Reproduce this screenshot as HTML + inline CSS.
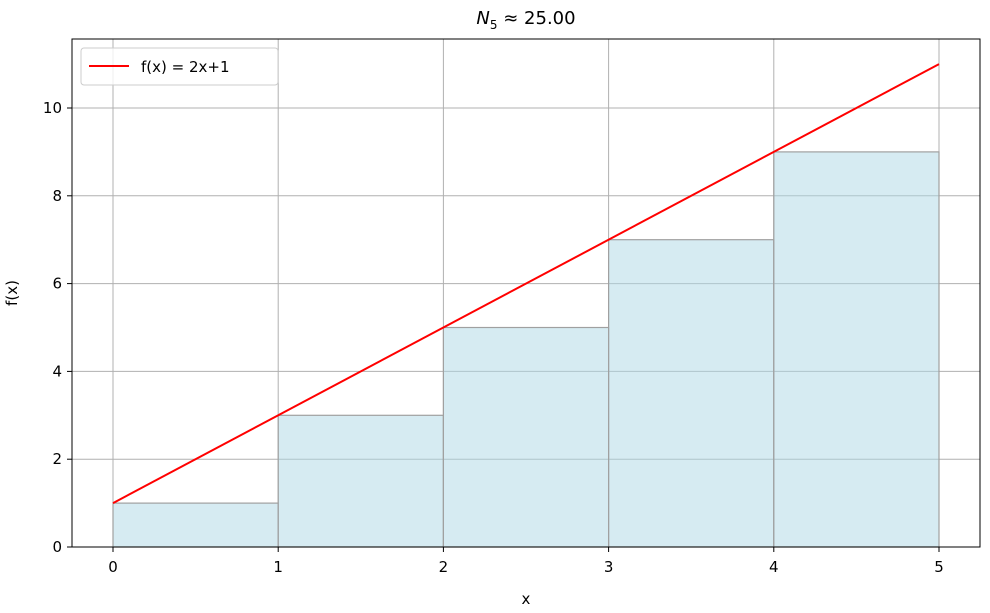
<!DOCTYPE html>
<html><head><meta charset="utf-8"><style>
body{margin:0;background:#fff;}
svg text{font-family:"DejaVu Sans","Liberation Sans",sans-serif;fill:#000;}
</style></head><body>
<svg width="990" height="608" xmlns="http://www.w3.org/2000/svg">
<g id="grid"></g>
<g id="bars"></g>
<g id="line"></g>
<rect x="72" y="39" width="908" height="508" fill="none" stroke="#000" stroke-width="1"/>
<g id="ticks"></g>
<text x="526" y="24" font-size="18" text-anchor="middle"><tspan font-style="italic">N</tspan><tspan font-size="12" dy="5">5</tspan><tspan dy="-5"> ≈ 25.00</tspan></text>
<text x="526" y="604" font-size="15" text-anchor="middle">x</text>
<text x="17" y="293" font-size="15" text-anchor="middle" transform="rotate(-90 17 293)">f(x)</text>
<g>
<rect x="81" y="48" width="197" height="37" rx="3" fill="#fff" fill-opacity="0.8" stroke="#ccc"/>
<line x1="89" y1="66" x2="129" y2="66" stroke="red" stroke-width="2"/>
<text x="141" y="72" font-size="15">f(x) = 2x+1</text>
</g>
</svg>
<script>
const xEdges=[0,1,2,3,4];
const barHeights=[1,3,5,7,9];
const lineX=[0,5];
const lineY=[1,11];
const xTicks=[0,1,2,3,4,5];
const yTicks=[0,2,4,6,8,10];
const NS="http://www.w3.org/2000/svg";
const xs=v=>113+v*165.2, ys=v=>547-v*43.9;
function mk(t,a,p){const e=document.createElementNS(NS,t);for(const k in a)e.setAttribute(k,a[k]);p.appendChild(e);return e;}
const grid=document.getElementById('grid'),bars=document.getElementById('bars'),ticks=document.getElementById('ticks'),line=document.getElementById('line');
xTicks.forEach(v=>{
 const g=mk('line',{x1:xs(v),x2:xs(v),y1:39,y2:547,stroke:'#b0b0b0','stroke-width':1},grid);
 
 
 mk('line',{x1:xs(v),x2:xs(v),y1:547,y2:552,stroke:'#000'},ticks);
 const t=mk('text',{x:xs(v),y:572,'font-size':15,'text-anchor':'middle'},ticks);t.textContent=v;
 
 
});
yTicks.forEach(v=>{
 const g=mk('line',{x1:72,x2:980,y1:ys(v),y2:ys(v),stroke:'#b0b0b0','stroke-width':1},grid);
 
 
 mk('line',{x1:67,x2:72,y1:ys(v),y2:ys(v),stroke:'#000'},ticks);
 const t=mk('text',{x:62,y:ys(v)+5,'font-size':15,'text-anchor':'end'},ticks);t.textContent=v;
 
 
});
xEdges.forEach((x0,i)=>{
 const r=mk('rect',{x:xs(x0),y:ys(barHeights[i]),width:xs(x0+1)-xs(x0),height:ys(0)-ys(barHeights[i]),fill:'#add8e6','fill-opacity':0.5,stroke:'#a0a0a0','stroke-width':1.2},bars);
 
 
});
const pl=mk('polyline',{points:lineX.map((x,i)=>xs(x)+','+ys(lineY[i])).join(' '),fill:'none',stroke:'red','stroke-width':2},line);


</script>
</body></html>
